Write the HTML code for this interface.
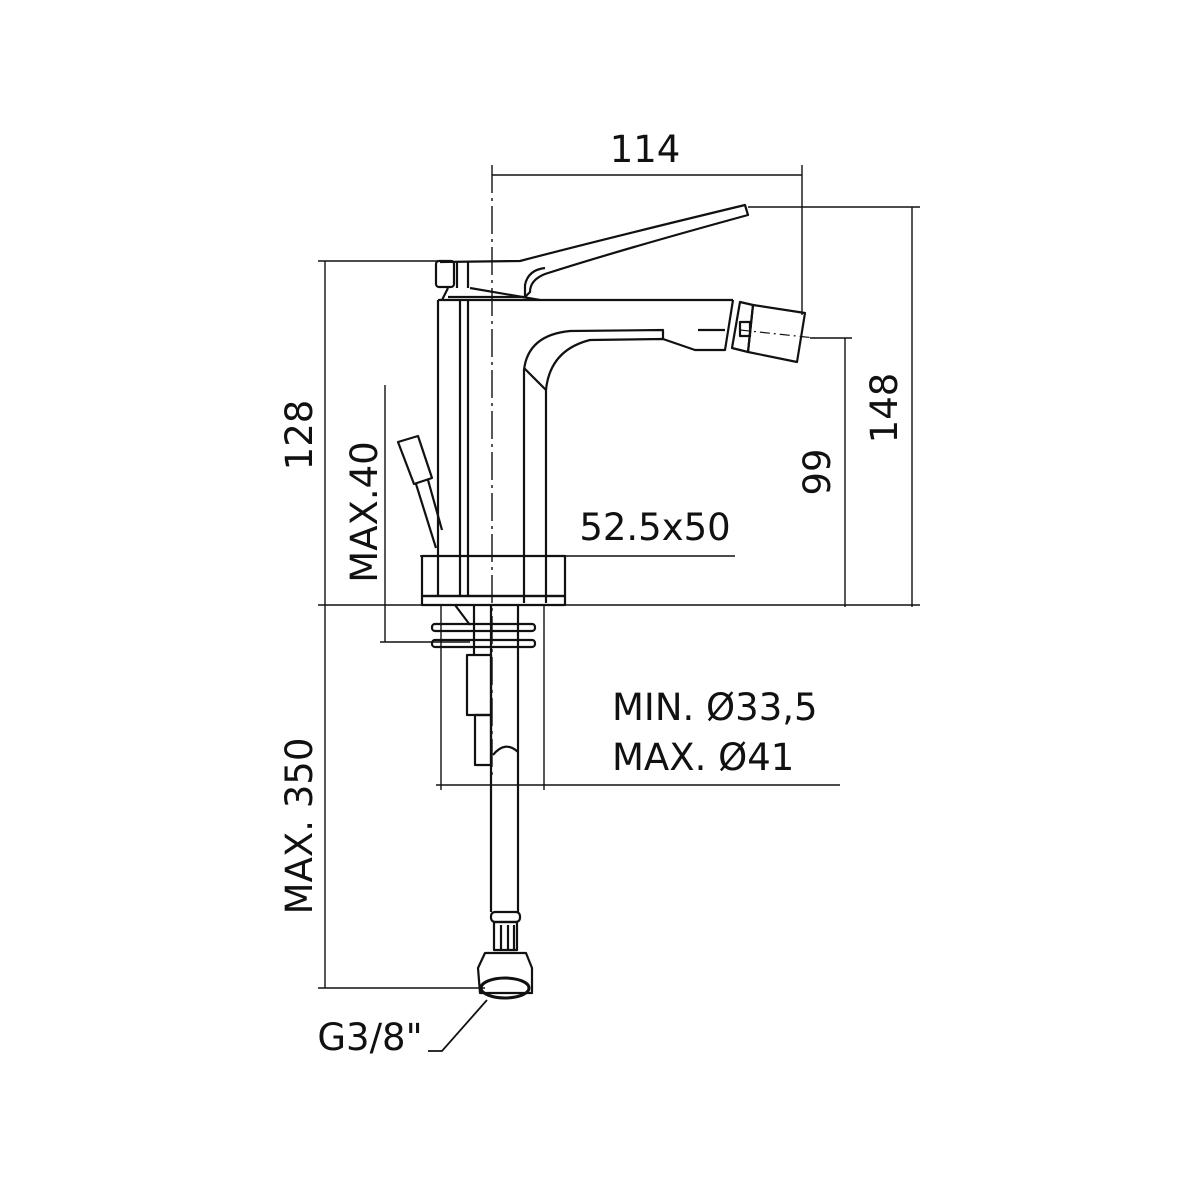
<!DOCTYPE html>
<html><head><meta charset="utf-8"><style>
html,body{margin:0;padding:0;background:#fff}
svg{display:block}
text{font-family:"DejaVu Sans","Liberation Sans",sans-serif;fill:#111}
</style></head><body>
<svg width="1200" height="1200" viewBox="0 0 1200 1200" xmlns="http://www.w3.org/2000/svg">
<g stroke="#111" fill="none" stroke-width="1.4">
<line x1="492" y1="175" x2="802" y2="175"/>
<line x1="802" y1="165" x2="802" y2="315"/>
<line x1="492" y1="165" x2="492" y2="775" stroke-dasharray="28,5,3,5"/>
<line x1="748" y1="207" x2="920" y2="207"/>
<line x1="912" y1="207" x2="912" y2="607"/>
<line x1="810" y1="338" x2="852" y2="338"/>
<line x1="845" y1="338" x2="845" y2="607"/>
<line x1="318" y1="261" x2="440" y2="261"/>
<line x1="325" y1="261" x2="325" y2="988"/>
<line x1="318" y1="988" x2="485" y2="988"/>
<line x1="318" y1="605" x2="920" y2="605"/>
<line x1="385" y1="385" x2="385" y2="642"/>
<line x1="380" y1="642" x2="470" y2="642"/>
<line x1="420" y1="556" x2="735" y2="556"/>
<line x1="441" y1="605" x2="441" y2="790"/>
<line x1="544" y1="605" x2="544" y2="790"/>
<line x1="436" y1="785" x2="840" y2="785"/>
<polyline points="428,1051 442,1051 487,1000" stroke-width="1.8"/>
</g>
<g stroke="#111" fill="none" stroke-width="2.2" stroke-linejoin="round">
<path d="M440 262 L520 261 Q600 240 745 205 L748 215 Q620 250 545 274 Q530 280 530 292 L525 297 L448 297"/>
<path d="M525 297 L525 285 Q528 270 545 268"/>
<rect x="436" y="261" width="18" height="26" rx="3"/>
<line x1="457" y1="262" x2="457" y2="288"/><line x1="468" y1="262" x2="468" y2="288"/>
<path d="M448 288 L442 300"/>
<path d="M470 288 L540 300"/>
<line x1="438" y1="300" x2="733" y2="300"/>
<line x1="438" y1="300" x2="438" y2="597"/>
<line x1="460" y1="300" x2="460" y2="597"/>
<line x1="468" y1="300" x2="468" y2="597"/>
<path d="M524 603 L524 370 Q528 335 570 331 L663 330 L663 340"/>
<path d="M546 603 L546 390 Q550 350 590 340 L663 339 L695 350 L725 350 L733 300"/>
<path d="M524 368 L546 390"/>
<path d="M698 330 L725 330"/>
<polygon points="740,302 753,305 748,352 732,348"/>
<polygon points="753,305 805,313 797,362 748,352"/>
<rect x="740" y="322" width="10" height="14"/>
<line x1="740" y1="330" x2="815" y2="338" stroke-width="1.2" stroke-dasharray="10,4,2,4"/>
<rect x="422" y="556" width="143" height="40"/>
<rect x="422" y="596" width="143" height="9"/>
<rect x="432" y="624" width="103" height="7" rx="3"/>
<rect x="432" y="640" width="103" height="7" rx="3"/>
<line x1="474" y1="605" x2="474" y2="655"/>
<line x1="455" y1="605" x2="470" y2="625"/>
<rect x="467" y="655" width="24" height="60"/>
<rect x="475" y="715" width="16" height="50"/>
<line x1="491" y1="605" x2="491" y2="912"/>
<line x1="518" y1="605" x2="518" y2="912"/>
<path d="M493 755 Q505 740 518 752"/>
<rect x="491" y="912" width="29" height="10" rx="4"/>
<rect x="494" y="922" width="23" height="28"/>
<line x1="501" y1="925" x2="501" y2="950"/><line x1="508" y1="925" x2="508" y2="950"/><line x1="514" y1="925" x2="514" y2="950"/>
<path d="M485 953 L526 953 L532 968 L532 993 L480 993 L478 968 Z"/>
<ellipse cx="505" cy="988" rx="24" ry="10" stroke-width="3"/>
<polygon points="398,442 418,436 432,478 414,484"/>
<line x1="416" y1="484" x2="436" y2="548"/><line x1="428" y1="480" x2="442" y2="530"/>
</g>
<g font-size="37">
<text x="645" y="162" text-anchor="middle">114</text>
<text x="655" y="540" text-anchor="middle">52.5x50</text>
<text x="612" y="720">MIN. Ø33,5</text>
<text x="612" y="770">MAX. Ø41</text>
<text x="370" y="1050" text-anchor="middle">G3/8"</text>
<text transform="translate(312,435) rotate(-90)" text-anchor="middle">128</text>
<text transform="translate(897,408) rotate(-90)" text-anchor="middle">148</text>
<text transform="translate(830,472) rotate(-90)" text-anchor="middle">99</text>
<text transform="translate(377,512) rotate(-90)" text-anchor="middle">MAX.40</text>
<text transform="translate(312,826) rotate(-90)" text-anchor="middle">MAX. 350</text>
</g>
</svg>
</body></html>
